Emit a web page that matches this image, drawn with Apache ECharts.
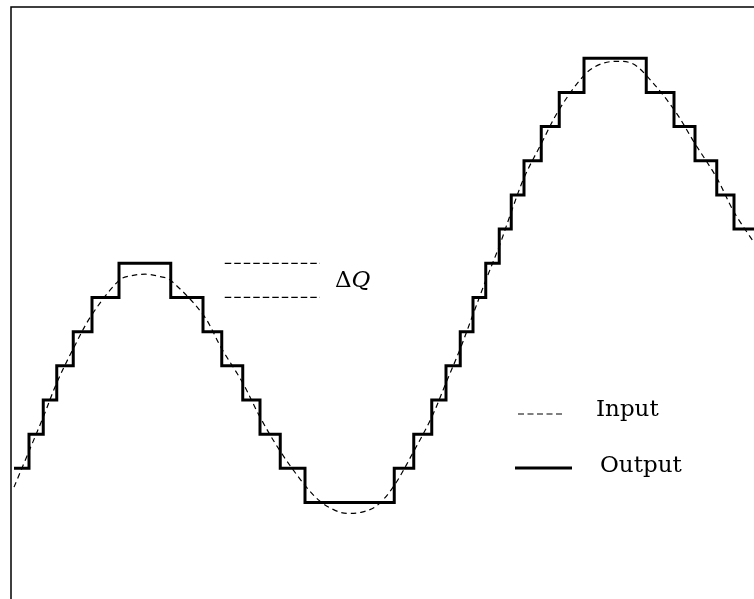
<!DOCTYPE html>
<html>
<head>
<meta charset="utf-8">
<script src="https://cdn.jsdelivr.net/npm/echarts@6/dist/echarts.min.js"></script>
<style>
  html, body { margin: 0; padding: 0; background: #fff; }
  #main { width: 754px; height: 599px; }
</style>
</head>
<body>
<div id="main"></div>
<script>
// time in arbitrary units, amplitude in quantization levels (1 level = ΔQ)
var inT = [0.4, 2.4, 4.3, 6.1, 8.3, 10.8, 14.4, 15.9, 17.9, 19.9, 21.3, 25.6, 28.1, 30.9, 33.2, 35.9,
  39.2, 41.2, 43.2, 44.9, 46.8, 48.8, 51.1, 53.7, 56.1, 58.0, 59.9, 61.6, 63.3, 65.1, 66.7, 68.4,
  70.7, 73.1, 76.4, 78.5, 80.8, 82.8, 84.7, 88.4, 91.2, 94.1, 96.4, 99.1];
var inLevel = [0.45, 1.5, 2.5, 3.5, 4.5, 5.5, 6.5, 6.63, 6.68, 6.61, 6.5, 5.5, 4.5, 3.5, 2.5, 1.5,
  0.5, 0.04, -0.23, -0.32, -0.28, -0.09, 0.5, 1.5, 2.5, 3.5, 4.5, 5.5, 6.5, 7.5, 8.5, 9.5,
  10.5, 11.5, 12.5, 12.82, 12.91, 12.85, 12.5, 11.5, 10.5, 9.5, 8.5, 7.6];

// output: each level holds from its start time until the next one
var outT = [0.4, 2.4, 4.3, 6.1, 8.3, 10.8, 14.4, 21.3, 25.6, 28.1, 30.9, 33.2, 35.9, 39.2,
  51.1, 53.7, 56.1, 58.0, 59.9, 61.6, 63.3, 65.1, 66.7, 68.4, 70.7, 73.1, 76.4,
  84.7, 88.4, 91.2, 94.1, 96.4, 100];
var outLevel = [1, 2, 3, 4, 5, 6, 7, 6, 5, 4, 3, 2, 1, 0,
  1, 2, 3, 4, 5, 6, 7, 8, 9, 10, 11, 12, 13,
  12, 11, 10, 9, 8, 8];

// the two ΔQ marker lines
var dqT = [28.5, 41.2];
var dqLevels = [7, 6];

function pairs(xs, ys) {
  return xs.map(function (x, i) { return [x, ys[i]]; });
}

var chart = echarts.init(document.getElementById('main'));

var series = [
  {
    name: 'Input',
    type: 'line',
    data: pairs(inT, inLevel),
    smooth: 0.35,
    showSymbol: false,
    lineStyle: { color: '#000', width: 1.2, type: [5.5, 4] }
  },
  {
    name: 'Output',
    type: 'line',
    data: pairs(outT, outLevel),
    step: 'end',
    showSymbol: false,
    lineStyle: { color: '#000', width: 3, join: 'miter' }
  }
];
dqLevels.forEach(function (lv) {
  series.push({
    type: 'line',
    data: pairs(dqT, [lv, lv]),
    showSymbol: false,
    lineStyle: { color: '#000', width: 1.2, type: [6.5, 3] }
  });
});

var serif = '"DejaVu Serif", serif';

chart.setOption({
  animation: false,
  backgroundColor: '#fff',
  grid: {
    left: 11, top: 7, width: 750, height: 598,
    outerBoundsMode: 'none',
    show: false
  },
  xAxis: {
    type: 'value', min: 0, max: 100,
    axisLine: { show: false }, axisTick: { show: false },
    axisLabel: { show: false }, splitLine: { show: false }
  },
  yAxis: {
    type: 'value', min: -3, max: 14.5,
    axisLine: { show: false }, axisTick: { show: false },
    axisLabel: { show: false }, splitLine: { show: false }
  },
  series: series,
  graphic: [
    // frame: only its left and top edges fall inside the picture
    {
      type: 'polyline',
      shape: { points: [[11, 610], [11, 7], [760, 7]] },
      style: { stroke: '#000', lineWidth: 1.5, fill: null }
    },
    {
      type: 'line',
      shape: { x1: 518, y1: 414, x2: 564, y2: 414 },
      style: { stroke: '#000', lineWidth: 1.2, lineDash: [6, 3.5] }
    },
    {
      type: 'text', x: 596, y: 410,
      style: { text: 'Input', font: '23px ' + serif, fill: '#000', verticalAlign: 'middle' }
    },
    {
      type: 'line',
      shape: { x1: 515, y1: 468, x2: 572, y2: 468 },
      style: { stroke: '#000', lineWidth: 3 }
    },
    {
      type: 'text', x: 600, y: 466,
      style: { text: 'Output', font: '23px ' + serif, fill: '#000', verticalAlign: 'middle' }
    },
    {
      type: 'text', x: 335, y: 281,
      style: {
        text: '{n|Δ}{i|Q}',
        verticalAlign: 'middle',
        rich: {
          n: { font: '23px ' + serif, fill: '#000' },
          i: { font: 'italic 23px ' + serif, fill: '#000' }
        }
      }
    }
  ]
});
</script>
</body>
</html>
